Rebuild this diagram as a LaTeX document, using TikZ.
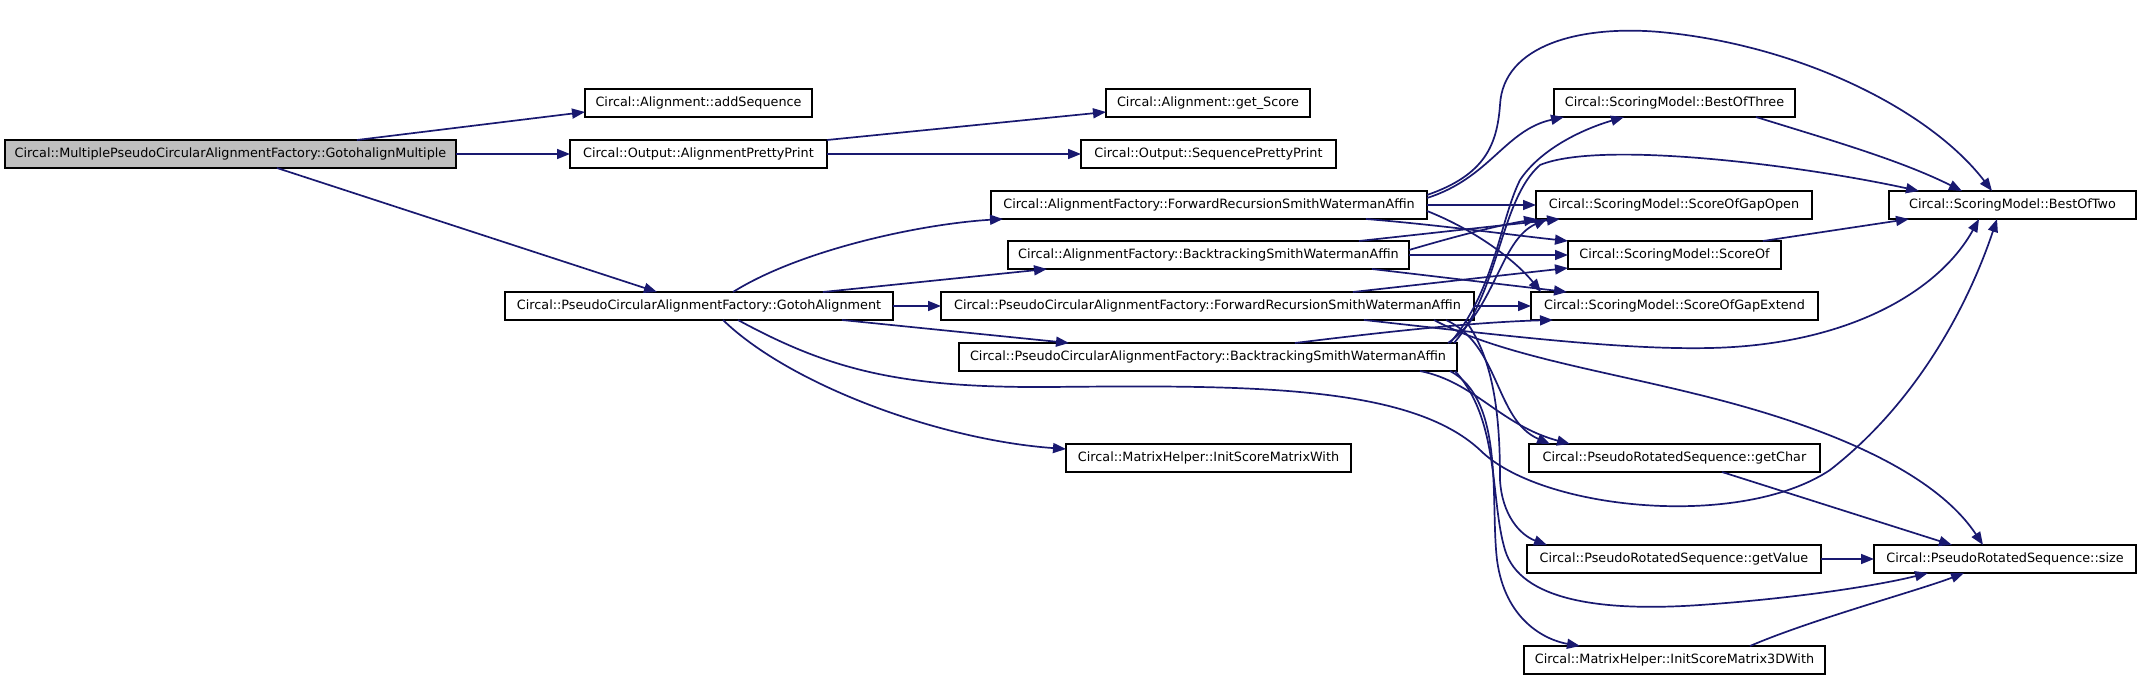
\documentclass[tikz,border=0pt]{standalone}
\usepackage{fontspec}
\setmainfont{DejaVu Sans}
\usetikzlibrary{calc,arrows.meta}
\definecolor{edgeblue}{HTML}{191970}
\definecolor{rootgray}{HTML}{BFBFBF}
\tikzset{
  cgbox/.style={draw=black, fill=white, line width=1pt, inner sep=0pt, outer sep=0pt,
    minimum height=14pt, font=\fontsize{6.4pt}{7.7pt}\selectfont, anchor=north west},
  rootbox/.style={cgbox, fill=rootgray},
  call/.style={color=edgeblue, line width=0.85pt, -{Triangle[length=6.5pt,width=5pt]}},
}
\begin{document}
\begin{tikzpicture}[x=0.5pt,y=-0.5pt]
\useasboundingbox (0,0) rectangle (2141,679);
% nodes
\node[rootbox, minimum width=225.5pt] (gm) at (5,140) {Circal::MultiplePseudoCircularAlignmentFactory::GotohalignMultiple};
\node[cgbox, minimum width=113.5pt] (addseq) at (585,89) {Circal::Alignment::addSequence};
\node[cgbox, minimum width=128.5pt] (app) at (570,140) {Circal::Output::AlignmentPrettyPrint};
\node[cgbox, minimum width=102pt] (gets) at (1106,89) {Circal::Alignment::get\_Score};
\node[cgbox, minimum width=127.5pt] (spp) at (1081,140) {Circal::Output::SequencePrettyPrint};
\node[cgbox, minimum width=194pt] (got) at (505,292) {Circal::PseudoCircularAlignmentFactory::GotohAlignment};
\node[cgbox, minimum width=218pt] (aff) at (991,191) {Circal::AlignmentFactory::ForwardRecursionSmithWatermanAffin};
\node[cgbox, minimum width=200.5pt] (afb) at (1008,241) {Circal::AlignmentFactory::BacktrackingSmithWatermanAffin};
\node[cgbox, minimum width=266.5pt] (pcf) at (941,292) {Circal::PseudoCircularAlignmentFactory::ForwardRecursionSmithWatermanAffin};
\node[cgbox, minimum width=249pt] (pcb) at (959,343) {Circal::PseudoCircularAlignmentFactory::BacktrackingSmithWatermanAffin};
\node[cgbox, minimum width=142.5pt] (ismw) at (1066,444) {Circal::MatrixHelper::InitScoreMatrixWith};
\node[cgbox, minimum width=120.5pt] (bo3) at (1554,89) {Circal::ScoringModel::BestOfThree};
\node[cgbox, minimum width=138pt] (sogo) at (1536,191) {Circal::ScoringModel::ScoreOfGapOpen};
\node[cgbox, minimum width=106.5pt] (so) at (1568,241) {Circal::ScoringModel::ScoreOf};
\node[cgbox, minimum width=143.5pt] (soge) at (1531,292) {Circal::ScoringModel::ScoreOfGapExtend};
\node[cgbox, minimum width=123.5pt] (bo2) at (1889,191) {Circal::ScoringModel::BestOfTwo};
\node[cgbox, minimum width=145.5pt] (gch) at (1529,444) {Circal::PseudoRotatedSequence::getChar};
\node[cgbox, minimum width=147pt] (gval) at (1527,545) {Circal::PseudoRotatedSequence::getValue};
\node[cgbox, minimum width=131pt] (size) at (1874,545) {Circal::PseudoRotatedSequence::size};
\node[cgbox, minimum width=150.5pt] (ism3) at (1524,646) {Circal::MatrixHelper::InitScoreMatrix3DWith};
% edges from the root
\draw[call] ($(gm.north west)+(352,0)$) -- ($(addseq.north west)+(0,23)$);
\draw[call] (gm.east) -- (app.west);
\draw[call] ($(gm.north west)+(272,28)$) -- ($(got.north west)+(152,0)$);
\draw[call] ($(app.north west)+(257,0)$) -- ($(gets.north west)+(0,23)$);
\draw[call] (app.east) -- (spp.west);
% GotohAlignment
\draw[call] ($(got.north west)+(228,0)$) .. controls (800,250) and (920,224) .. ($(aff.north west)+(12,28)$);
\draw[call] ($(got.north west)+(318,0)$) -- ($(afb.north west)+(39,28)$);
\draw[call] (got.east) -- (pcf.west);
\draw[call] ($(got.north west)+(337,28)$) -- ($(pcb.north west)+(110,0)$);
\draw[call] ($(got.north west)+(218,28)$) .. controls (790,385) and (940,440) .. ($(ismw.north west)+(0,5)$);
\draw[call] ($(got.north west)+(233,28)$) .. controls (830,370) and (900,388) .. (1050,387) .. controls (1250,385) and (1410,385) .. (1480,450) .. controls (1540,510) and (1740,530) .. (1830,470) .. controls (1920,400) and (1970,300) .. ($(bo2.north west)+(108,28)$);
% AlignmentFactory::ForwardRecursion
\draw[call] (aff.east) -- (sogo.west);
\draw[call] ($(aff.north west)+(375,28)$) .. controls (1440,225) and (1520,236) .. (so.north west);
\draw[call] ($(aff.north west)+(436,20)$) .. controls (1475,230) and (1515,260) .. ($(soge.north west)+(10,0)$);
\draw[call] ($(aff.north west)+(436,7)$) .. controls (1490,178) and (1505,130) .. ($(bo3.north west)+(10,28)$);
\draw[call] ($(aff.north west)+(436,4)$) .. controls (1485,175) and (1497,145) .. (1500,105) .. controls (1503,45) and (1580,25) .. (1660,32) .. controls (1800,45) and (1930,110) .. ($(bo2.north west)+(103,0)$);
% AlignmentFactory::Backtracking
\draw[call] (afb.east) -- (so.west);
\draw[call] ($(afb.north west)+(401,9)$) .. controls (1460,235) and (1500,225) .. ($(sogo.north west)+(1,28)$);
\draw[call] ($(afb.north west)+(351,0)$) -- ($(sogo.north west)+(24,28)$);
\draw[call] ($(afb.north west)+(364,28)$) -- ($(soge.north west)+(36,0)$);
% PseudoCircular ForwardRecursion
\draw[call] (pcf.east) -- (soge.west);
\draw[call] ($(pcf.north west)+(412,0)$) -- ($(so.north west)+(0,27)$);
\draw[call] ($(pcf.north west)+(505,28)$) .. controls (1500,345) and (1495,420) .. ($(gch.north west)+(21,0)$);
\draw[call] ($(pcf.north west)+(524,28)$) .. controls (1495,360) and (1500,420) .. (1500,480) .. controls (1502,515) and (1520,535) .. ($(gval.north west)+(20,0)$);
\draw[call] ($(pcf.north west)+(423,28)$) .. controls (1500,335) and (1620,350) .. (1710,348) .. controls (1850,345) and (1940,290) .. ($(bo2.north west)+(90,28)$);
\draw[call] ($(pcf.north west)+(493,28)$) .. controls (1500,355) and (1600,370) .. (1700,395) .. controls (1850,432) and (1940,480) .. ($(size.north west)+(109,0)$);
% PseudoCircular Backtracking
\draw[call] ($(pcb.north west)+(336,0)$) .. controls (1400,330) and (1480,322) .. ($(soge.north west)+(22,28)$);
\draw[call] ($(pcb.north west)+(489,0)$) .. controls (1495,310) and (1500,240) .. ($(sogo.north west)+(11,28)$);
\draw[call] ($(pcb.north west)+(491,0)$) .. controls (1495,290) and (1500,220) .. (1520,180) .. controls (1540,150) and (1580,130) .. ($(bo3.north west)+(70,28)$);
\draw[call] ($(pcb.north west)+(495,0)$) .. controls (1500,290) and (1500,200) .. (1540,165) .. controls (1600,140) and (1800,165) .. ($(bo2.north west)+(30,0)$);
\draw[call] ($(pcb.north west)+(461,28)$) .. controls (1475,382) and (1500,425) .. ($(gch.north west)+(41,0)$);
\draw[call] ($(pcb.north west)+(491,28)$) .. controls (1505,400) and (1490,500) .. (1497,560) .. controls (1505,620) and (1545,640) .. ($(ism3.north west)+(56,0)$);
\draw[call] ($(pcb.north west)+(496,28)$) .. controls (1500,420) and (1490,500) .. (1505,550) .. controls (1520,600) and (1600,612) .. (1700,605) .. controls (1800,598) and (1880,585) .. ($(size.north west)+(54,28)$);
% right part
\draw[call] ($(bo3.north west)+(202,28)$) .. controls (1830,140) and (1900,160) .. ($(bo2.north west)+(73,0)$);
\draw[call] ($(so.north west)+(195,0)$) -- ($(bo2.north west)+(20,28)$);
\draw[call] ($(gch.north west)+(193,28)$) -- ($(size.north west)+(78,0)$);
\draw[call] (gval.east) -- (size.west);
\draw[call] ($(ism3.north west)+(226,0)$) .. controls (1810,620) and (1920,590) .. ($(size.north west)+(90,28)$);
\end{tikzpicture}
\end{document}
